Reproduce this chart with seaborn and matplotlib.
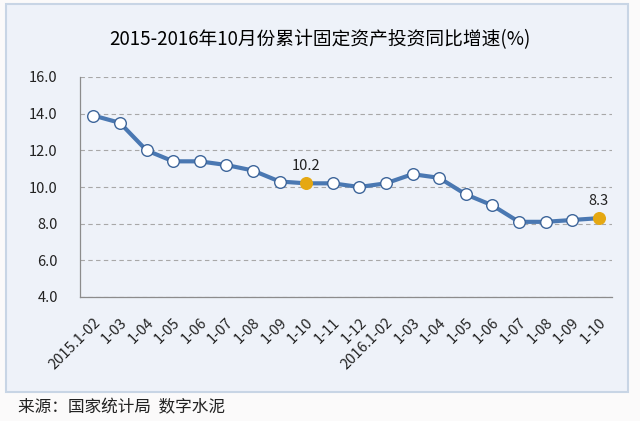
import numpy as np
import pandas as pd
import matplotlib
matplotlib.use("Agg")
import matplotlib.pyplot as plt
from matplotlib.patches import Rectangle
import seaborn as sns

# data
months = ["2015.1-02", "1-03", "1-04", "1-05", "1-06", "1-07", "1-08", "1-09", "1-10", "1-11",
          "1-12", "2016.1-02", "1-03", "1-04", "1-05", "1-06", "1-07", "1-08", "1-09", "1-10"]
growth = [13.9, 13.5, 12.0, 11.4, 11.4, 11.2, 10.9, 10.3, 10.2, 10.2,
          10.0, 10.2, 10.7, 10.5, 9.6, 9.0, 8.1, 8.1, 8.2, 8.3]
highlight = [8, 19]  # points drawn in orange with labels

title = "2015-2016年10月份累计固定资产投资同比增速(%)"
source = "来源：国家统计局  数字水泥"

sns.set_style("white")
plt.rcParams['font.family'] = ['Noto Sans CJK SC', 'DejaVu Sans']

df = pd.DataFrame({"pos": np.arange(len(months)), "growth": growth})

fig = plt.figure(figsize=(6.4, 4.21), dpi=100)
fig.patch.set_facecolor("#fbfafa")

# light panel behind the chart
panel = Rectangle((6 / 640, 1 - 392 / 421), 622 / 640, 388 / 421, transform=fig.transFigure,
                  facecolor="#eef2f9", edgecolor="#c8d5e5", linewidth=1.5, zorder=-10)
fig.patches.append(panel)

ax = fig.add_axes([80 / 640, 1 - 297 / 421, 532 / 640, 220 / 421])
ax.set_facecolor("none")

sns.lineplot(data=df, x="pos", y="growth", ax=ax, color="#4a78b2", linewidth=3, zorder=3)
normal = df.drop(index=highlight)
ax.scatter(normal["pos"], normal["growth"], s=70, facecolor="white", edgecolor="#3d659a",
           linewidth=1, zorder=4)
hl = df.loc[highlight]
ax.scatter(hl["pos"], hl["growth"], s=70, facecolor="#e5a812", edgecolor="#e5a812",
           linewidth=1, zorder=4)
for i in highlight:
    ax.text(df.loc[i, "pos"], df.loc[i, "growth"] + 0.55, f"{growth[i]:.1f}",
            ha="center", va="bottom", fontsize=10.5, color="#222222")

ax.set_xlim(-0.5, len(months) - 0.5)
ax.set_ylim(4, 16)
ax.set_yticks(np.arange(4, 16.1, 2))
ax.set_yticklabels([f"{v:.1f}" for v in np.arange(4, 16.1, 2)], fontsize=10.5, color="#222222")
ax.yaxis.grid(True, linestyle=(0, (4, 3)), color="#a8a8a8", linewidth=0.8)
ax.set_axisbelow(True)

ax.set_xticks(df["pos"])
ax.set_xticklabels(months, rotation=45, ha="right", rotation_mode="anchor",
                   fontsize=10.5, color="#222222")
ax.set_xticks(np.arange(-0.5, len(months)), minor=True)
ax.tick_params(axis="x", which="major", length=0, pad=13)
ax.tick_params(axis="x", which="minor", length=4, direction="in", color="#8c8c8c", width=0.8)
ax.tick_params(axis="y", length=0, pad=16)
ax.set_xlabel("")
ax.set_ylabel("")

for side in ["top", "right"]:
    ax.spines[side].set_visible(False)
for side in ["left", "bottom"]:
    ax.spines[side].set_color("#8c8c8c")
    ax.spines[side].set_linewidth(0.9)

fig.text(0.5, 1 - 40 / 421, title, ha="center", va="center", fontsize=13.5,
         color="#000000")
fig.text(18 / 640, 1 - 408 / 421, source, ha="left", va="center", fontsize=12, color="#222222")

fig.savefig("out.png", dpi=100, facecolor=fig.get_facecolor())
